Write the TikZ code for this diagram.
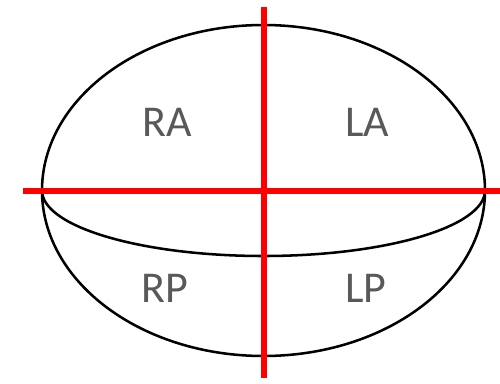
\documentclass[tikz,border=0pt]{standalone}
\usepackage{fontspec}
\setmainfont{Carlito}
\definecolor{txtgray}{HTML}{595959}
\begin{document}
\begin{tikzpicture}[x=0.75pt,y=-0.75pt,
  outline/.style={draw=black,line width=1.9pt},
  axis/.style={draw=red,line width=4.5pt},
  lbl/.style={text=txtgray,font=\fontsize{33}{37}\selectfont,inner sep=0pt}]
\useasboundingbox (0,0) rectangle (500,383);
\coordinate (c) at (263.5,190.5);
\draw[outline] (c) ellipse [x radius=221.5, y radius=165.5];
\draw[outline] (42,190.5) arc[start angle=180, end angle=360, x radius=221.5, y radius=-65.5];
\coordinate (hl) at (23,191);
\coordinate (hr) at (500,191);
\coordinate (vt) at (263.5,7);
\coordinate (vb) at (263.5,378);
\draw[axis] (hl) -- (hr);
\draw[axis] (vt) -- (vb);
\node[lbl] (ra) at (167,122) {RA};
\node[lbl] (la) at (367,122) {LA};
\node[lbl] (rp) at (165,288) {RP};
\node[lbl] (lp) at (366,288) {LP};
\end{tikzpicture}
\end{document}
